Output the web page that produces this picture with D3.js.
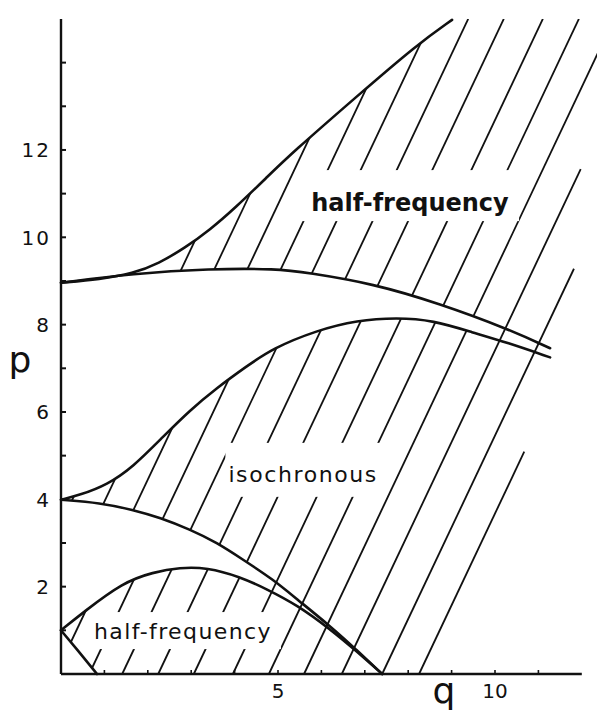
<!DOCTYPE html>
<html>
<head>
<meta charset="utf-8">
<script src="https://cdn.jsdelivr.net/npm/d3@7"></script>
<style>
body { margin: 0; background: #fff; }
svg { display: block; }
</style>
</head>
<body>
<script>
// axis ticks
var yTickValues = d3.range(1, 15);
var yTickLabels = [2, 4, 6, 8, 10, 12];
var xTickValues = d3.range(1, 12);
var xTickLabels = [5, 10];

// boundary curves, [q, p]
var curveL1 = [[0, 1], [0.42, 0.5], [0.83, 0]];
var curveU1 = [[0, 1], [0.51, 1.41], [1.43, 2.10], [2.12, 2.33], [2.74, 2.44], [3.36, 2.44],
               [4.12, 2.23], [4.75, 1.94], [5.44, 1.58], [6.20, 1.03], [6.80, 0.53], [7.40, 0]];
var curveL2 = [[0, 3.99], [0.90, 3.92], [1.66, 3.76], [2.28, 3.58], [2.97, 3.31], [3.59, 3.01],
               [4.19, 2.62], [4.88, 2.17], [5.44, 1.71], [6.20, 1.10], [6.80, 0.56], [7.40, 0]];
var curveU2 = [[0, 3.99], [0.44, 4.10], [1.06, 4.33], [1.66, 4.74], [2.35, 5.43], [2.97, 6.04],
               [3.59, 6.55], [4.24, 7.02], [4.88, 7.46], [5.90, 7.87], [6.82, 8.10], [7.74, 8.16],
               [8.57, 8.10], [9.49, 7.82], [10.28, 7.59], [11.27, 7.25]];
var curveL3 = [[0, 8.96], [1.66, 9.17], [3.43, 9.28], [4.98, 9.28], [5.67, 9.19], [7.19, 8.94],
               [8.73, 8.48], [10.28, 7.91], [11.27, 7.46]];
var curveU3 = [[0, 8.96], [0.9, 9.04], [1.66, 9.17], [2.25, 9.40], [2.86, 9.76], [3.43, 10.17],
               [4.01, 10.67], [4.75, 11.38], [5.32, 11.93], [6.82, 13.23], [8.20, 14.41], [9.01, 14.98]];

// hatching: q where each stroke meets p = 0, and where it stops at the top
var hatchIntercepts = [-1.64, -0.88, -0.12, 0.65, 1.41, 2.24, 3.06, 3.96, 4.79, 5.60, 6.47, 7.40, 8.25];
var hatchTops = [15, 15, 15, 15, 15, 15, 15, 15, 15, 15, 11.56, 9.28, 5.09];
var hatchSlope = 2.1;

// stable strips stay blank up to these q
var bandEnds = [4.5, 9.7];

// region labels
var labelTexts = ["half-frequency", "isochronous", "half-frequency"];
var labelPos = [[8.04, 10.6], [5.58, 4.40], [2.81, 0.80]];

var W = 597, H = 721;
var ink = "#111";

var x = d3.scaleLinear().domain([0, 12]).range([61, 61 + 12 * 43.4]);
var y = d3.scaleLinear().domain([0, 15]).range([674, 674 - 15 * 43.67]);

var svg = d3.select("body").append("svg")
    .attr("width", W)
    .attr("height", H)
    .style("font-family", "'DejaVu Sans', sans-serif");

svg.append("rect").attr("width", W).attr("height", H).attr("fill", "#fff");

var defs = svg.append("defs");
var mask = defs.append("mask").attr("id", "hatchMask")
    .attr("maskUnits", "userSpaceOnUse")
    .attr("x", 0).attr("y", 0).attr("width", W).attr("height", H);

var hatchG = svg.append("g").attr("mask", "url(#hatchMask)");
var curveG = svg.append("g");
var axisG = svg.append("g");
var labelG = svg.append("g");

var line = d3.line()
    .x(function(d) { return x(d[0]); })
    .y(function(d) { return y(d[1]); })
    .curve(d3.curveBasis);

var curves = [curveL1, curveU1, curveL2, curveU2, curveL3, curveU3];
var paths = curves.map(function(c) {
  return curveG.append("path")
      .attr("d", line(c))
      .attr("fill", "none")
      .attr("stroke", ink)
      .attr("stroke-width", 2.6)
      .attr("stroke-linecap", "round")
      .node();
});

function sample(node) {
  var n = node.getTotalLength(), pts = [];
  for (var s = 0; s < n; s += 1) {
    var pt = node.getPointAtLength(s);
    pts.push([pt.x, pt.y]);
  }
  var e = node.getPointAtLength(n);
  pts.push([e.x, e.y]);
  return pts;
}

var pL1 = sample(paths[0]), pU1 = sample(paths[1]), pL2 = sample(paths[2]);
var pU2 = sample(paths[3]), pL3 = sample(paths[4]), pU3 = sample(paths[5]);

function upTo(pts, q) {
  return pts.filter(function(d) { return d[0] <= x(q); });
}

var poly = d3.line();

// hatching allowed inside the plot
mask.append("rect")
    .attr("x", x(0)).attr("y", y(15))
    .attr("width", W - x(0)).attr("height", y(0) - y(15))
    .attr("fill", "#fff");

// stable (blank) regions
var stable = [
  pL1.concat([[x(0), y(0)]]),
  upTo(pU1, bandEnds[0]).concat(upTo(pL2, bandEnds[0]).reverse()),
  upTo(pU2, bandEnds[1]).concat(upTo(pL3, bandEnds[1]).reverse()),
  pU3.concat([[pU3[pU3.length - 1][0], -10], [x(0) - 5, -10], [x(0) - 5, pU3[0][1]]])
];
stable.forEach(function(s) {
  mask.append("path").attr("d", poly(s) + "Z").attr("fill", "#000");
});

// hatch strokes
hatchG.selectAll("line")
    .data(hatchIntercepts)
    .enter()
    .append("line")
    .attr("x1", function(d) { return x(d); })
    .attr("y1", y(0))
    .attr("x2", function(d, i) { return x(d + hatchTops[i] / hatchSlope); })
    .attr("y2", function(d, i) { return y(hatchTops[i]); })
    .attr("stroke", ink)
    .attr("stroke-width", 1.8);

// axes
axisG.append("line")
    .attr("x1", x(0)).attr("x2", x(0))
    .attr("y1", y(0)).attr("y2", y(15))
    .attr("stroke", ink).attr("stroke-width", 2.4);
axisG.append("line")
    .attr("x1", x(0)).attr("x2", x(12))
    .attr("y1", y(0)).attr("y2", y(0))
    .attr("stroke", ink).attr("stroke-width", 2.4);

axisG.selectAll(".yt")
    .data(yTickValues)
    .enter().append("line")
    .attr("x1", x(0)).attr("x2", x(0) + 5)
    .attr("y1", function(d) { return y(d); })
    .attr("y2", function(d) { return y(d); })
    .attr("stroke", ink).attr("stroke-width", 2);

axisG.selectAll(".xt")
    .data(xTickValues)
    .enter().append("line")
    .attr("x1", function(d) { return x(d); })
    .attr("x2", function(d) { return x(d); })
    .attr("y1", y(0)).attr("y2", y(0) - 4)
    .attr("stroke", ink).attr("stroke-width", 1.6);

axisG.selectAll(".yl")
    .data(yTickLabels)
    .enter().append("text")
    .attr("x", 51)
    .attr("y", function(d) { return y(d); })
    .attr("dy", "0.36em")
    .attr("text-anchor", "end")
    .attr("font-size", 20)
    .attr("letter-spacing", 2)
    .attr("fill", ink)
    .text(function(d) { return d; });

axisG.selectAll(".xl")
    .data(xTickLabels)
    .enter().append("text")
    .attr("x", function(d) { return x(d); })
    .attr("y", 698)
    .attr("text-anchor", "middle")
    .attr("font-size", 20)
    .attr("fill", ink)
    .text(function(d) { return d; });

axisG.append("text")
    .attr("x", 20).attr("y", 372)
    .attr("text-anchor", "middle")
    .attr("font-size", 36)
    .attr("fill", ink)
    .text("p");

axisG.append("text")
    .attr("x", 444).attr("y", 703)
    .attr("text-anchor", "middle")
    .attr("font-size", 36)
    .attr("fill", ink)
    .text("q");

// labels, with a clearing in the hatching around each
var labelStyle = [
  { size: 24, weight: "bold", spacing: 0, pad: [12, 10, 19, 4] },
  { size: 22, weight: "normal", spacing: 1.6, pad: [3, 7, 19, 10] },
  { size: 22, weight: "normal", spacing: 1.4, pad: [3, 9, 7, 5] }
];

labelTexts.forEach(function(t, i) {
  var st = labelStyle[i];
  var txt = labelG.append("text")
      .attr("x", x(labelPos[i][0]))
      .attr("y", y(labelPos[i][1]))
      .attr("text-anchor", "middle")
      .attr("font-size", st.size)
      .attr("font-weight", st.weight)
      .attr("letter-spacing", st.spacing)
      .attr("fill", ink)
      .text(t);
  var b = txt.node().getBBox();
  mask.append("rect")
      .attr("x", b.x - st.pad[0])
      .attr("y", b.y - st.pad[2])
      .attr("width", b.width + st.pad[0] + st.pad[1])
      .attr("height", b.height + st.pad[2] + st.pad[3])
      .attr("fill", "#000");
});
</script>
</body>
</html>
